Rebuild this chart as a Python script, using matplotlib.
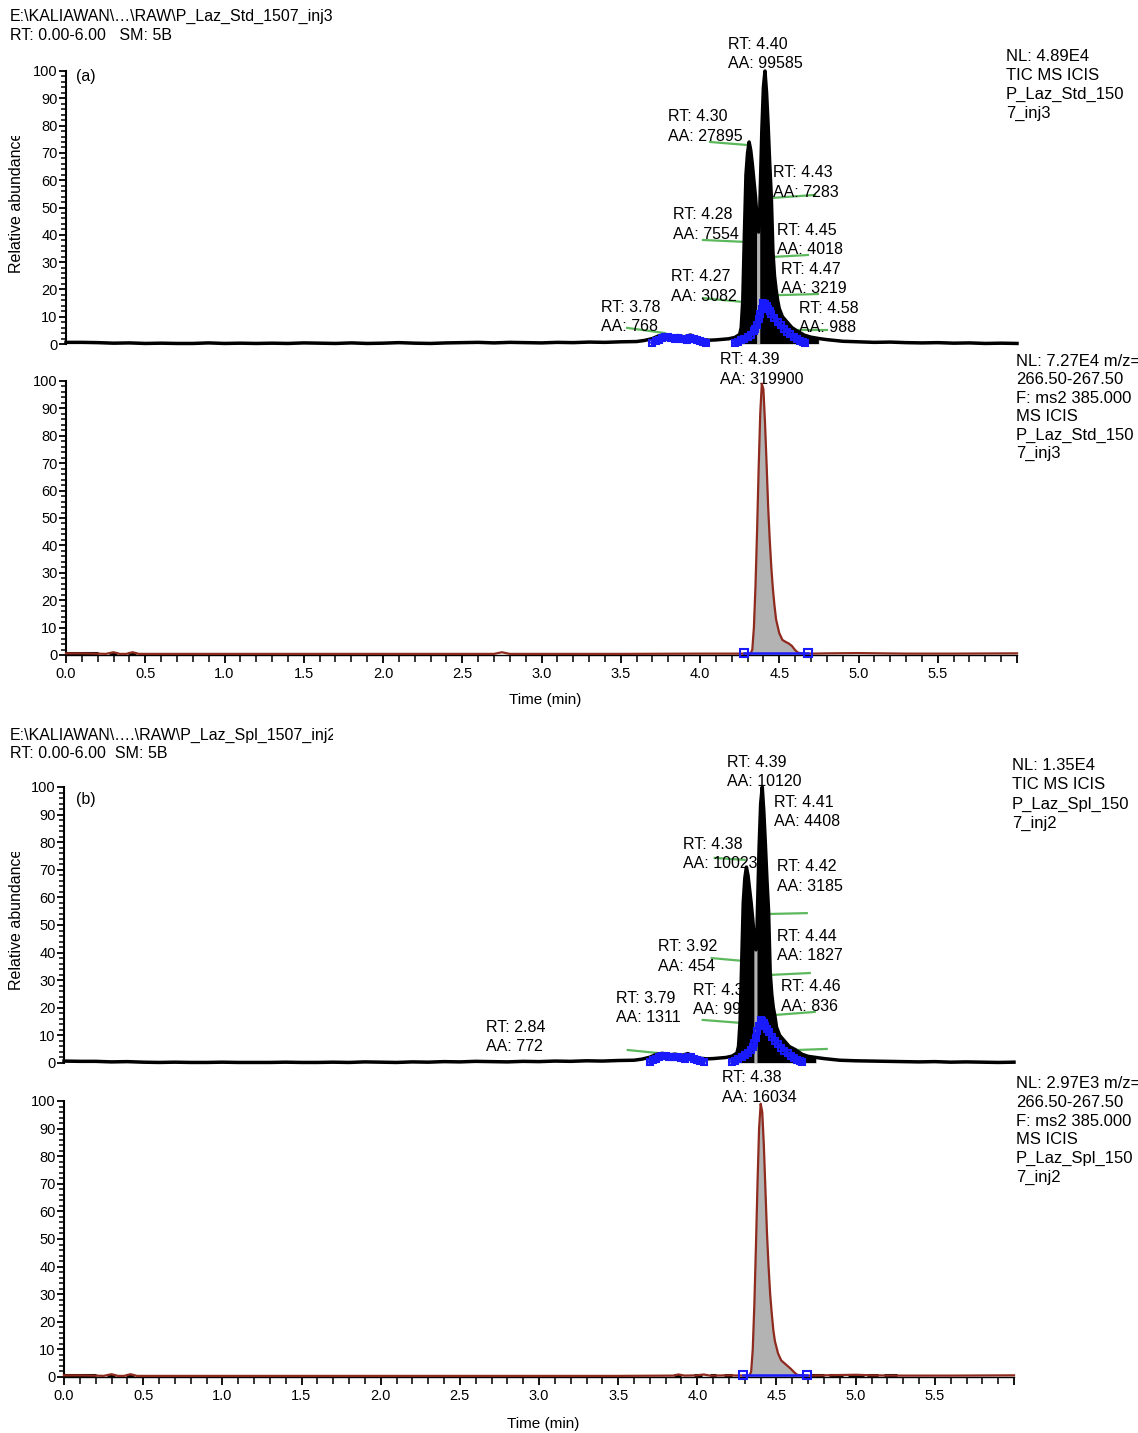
import matplotlib
matplotlib.use("Agg")

import matplotlib.pyplot as plt
import numpy as np
from matplotlib.ticker import MultipleLocator
from matplotlib.transforms import Bbox, TransformedBbox

plt.rcParams["font.family"] = ["Liberation Sans", "DejaVu Sans"]

W, H = 1138, 1433

# ---------------- data ----------------
x_tick_labels = ["0.0", "0.5", "1.0", "1.5", "2.0", "2.5", "3.0",
                 "3.5", "4.0", "4.5", "5.0", "5.5", ""]

tic_time = [0.00, 0.10, 0.20, 0.30, 0.40, 0.50, 0.60, 0.70, 0.80, 0.90,
            1.00, 1.10, 1.20, 1.30, 1.40, 1.50, 1.60, 1.70, 1.80, 1.90,
            2.00, 2.10, 2.20, 2.30, 2.40, 2.50, 2.60, 2.70, 2.80, 2.90,
            3.00, 3.10, 3.20, 3.30, 3.40, 3.50, 3.60,
            3.65, 3.70, 3.74, 3.78, 3.82, 3.86, 3.90, 3.94, 3.98, 4.02,
            4.06, 4.10, 4.14, 4.18, 4.22, 4.25,
            4.26, 4.27, 4.28, 4.29, 4.30, 4.31, 4.32, 4.33, 4.34, 4.35,
            4.36, 4.365, 4.37, 4.375, 4.38, 4.39, 4.40, 4.41, 4.42, 4.43,
            4.44, 4.45, 4.46, 4.47, 4.48, 4.49, 4.50,
            4.52, 4.55, 4.58, 4.62, 4.66, 4.70, 4.75, 4.80,
            4.90, 5.00, 5.10, 5.20, 5.30, 5.40, 5.50, 5.60, 5.70, 5.80,
            5.90, 6.00]

tic_a_val = [0.6, 0.6, 0.5, 0.3, 0.4, 0.2, 0.3, 0.2, 0.2, 0.4,
             0.2, 0.3, 0.2, 0.3, 0.2, 0.4, 0.3, 0.2, 0.4, 0.2,
             0.3, 0.5, 0.3, 0.2, 0.4, 0.5, 0.6, 0.4, 0.6, 0.5,
             0.4, 0.6, 0.5, 0.7, 0.6, 0.8, 0.9,
             1.3, 2.0, 3.0, 3.4, 2.8, 3.1, 2.6, 3.3, 2.2, 1.6,
             1.4, 1.5, 1.7, 1.9, 2.4, 3.5,
             6, 16, 40, 62, 70, 74, 71, 66, 60, 54,
             46, 42, 41, 44, 56, 78, 94, 100, 92, 80,
             66, 54, 34, 25, 20, 16, 13,
             10, 8, 6, 4.5, 3.2, 2.5, 2.0, 1.6,
             1.0, 0.8, 0.6, 0.7, 0.5, 0.4, 0.5, 0.3, 0.4, 0.2,
             0.3, 0.2]

tic_b_val = [0.7, 0.6, 0.6, 0.4, 0.5, 0.3, 0.2, 0.3, 0.2, 0.2,
             0.3, 0.2, 0.2, 0.2, 0.3, 0.2, 0.2, 0.3, 0.2, 0.4,
             0.3, 0.2, 0.4, 0.3, 0.5, 0.4, 0.6, 0.5, 0.4, 0.6,
             0.5, 0.7, 0.6, 0.8, 0.7, 0.9, 1.0,
             1.4, 2.1, 3.1, 3.5, 2.9, 3.2, 2.7, 3.4, 2.3, 1.7,
             1.5, 1.6, 1.8, 2.0, 2.5, 3.6,
             6, 15, 36, 58, 67, 71, 68, 63, 58, 52,
             45, 42, 41, 44, 56, 78, 94, 100, 91, 79,
             66, 55, 33, 25, 20, 17, 13,
             10, 8, 6, 4.8, 3.2, 2.4, 2.0, 1.6,
             1.0, 0.8, 0.7, 0.6, 0.5, 0.4, 0.5, 0.3, 0.4, 0.3,
             0.2, 0.3]

blue_bump_time = [3.70, 3.72, 3.74, 3.76, 3.78, 3.80, 3.82, 3.84, 3.86,
                  3.88, 3.90, 3.92, 3.94, 3.96, 3.98, 4.00, 4.02, 4.04]
blue_a_bump_val = [0.4, 1.0, 1.6, 2.2, 2.5, 2.6, 2.2, 2.0, 2.3,
                   2.0, 1.7, 1.5, 2.1, 2.0, 1.4, 1.0, 0.7, 0.4]
blue_b_bump_val = [0.4, 1.0, 1.5, 2.1, 2.6, 2.7, 2.3, 2.0, 2.2,
                   2.1, 1.8, 1.6, 2.2, 2.0, 1.5, 1.0, 0.7, 0.4]

blue_peak_time = [4.22, 4.24, 4.26, 4.28, 4.30, 4.32, 4.34, 4.35, 4.36, 4.37,
                  4.38, 4.39, 4.40, 4.41, 4.42, 4.43, 4.44, 4.45, 4.47, 4.49,
                  4.51, 4.53, 4.55, 4.57, 4.59, 4.61, 4.63, 4.65, 4.66]
blue_a_peak_val = [0.4, 0.8, 1.4, 2.0, 2.6, 3.4, 4.6, 5.5, 7.0, 9.0,
                   11, 13, 15, 14.8, 14, 13, 12, 11, 9.5, 8.0,
                   6.8, 5.6, 4.5, 3.5, 2.6, 1.8, 1.1, 0.6, 0.4]
blue_b_peak_val = [0.4, 0.8, 1.5, 2.1, 2.8, 3.6, 4.8, 5.8, 7.2, 9.2,
                   11.5, 13.5, 15.5, 15.2, 14.4, 13.3, 12.2, 11.2, 9.6, 8.1,
                   6.8, 5.6, 4.5, 3.5, 2.6, 1.8, 1.1, 0.6, 0.4]

srm_a_time = [0.00, 0.10, 0.20, 0.25, 0.30, 0.34, 0.38, 0.42, 0.46,
              1.00, 1.50, 2.00, 2.50, 2.70, 2.75, 2.80, 3.00, 3.50, 4.00,
              4.30, 4.32,
              4.33, 4.34, 4.35, 4.36, 4.37, 4.38, 4.39, 4.40, 4.41, 4.42,
              4.43, 4.44, 4.45, 4.46, 4.47, 4.48,
              4.50, 4.52, 4.54, 4.56, 4.58, 4.60, 4.62,
              4.66, 4.70, 4.80, 5.00, 5.30, 5.60, 6.00]
srm_a_val = [0.6, 0.6, 0.5, 0.4, 1.0, 0.4, 0.4, 1.0, 0.4,
             0.4, 0.4, 0.4, 0.4, 0.4, 1.0, 0.4, 0.4, 0.4, 0.5,
             0.5, 0.6,
             2, 10, 25, 45, 68, 88, 99, 97, 85, 70,
             54, 42, 32, 24, 18, 13,
             8, 5.5, 4.8, 4.2, 3.3, 1.8, 0.8,
             0.5, 0.5, 0.6, 0.7, 0.5, 0.5, 0.6]

srm_b_time = [0.00, 0.10, 0.20, 0.25, 0.30, 0.34, 0.38, 0.42, 0.46,
              1.00, 1.50, 2.00, 2.50, 3.00, 3.50, 3.85, 3.88, 3.92, 4.00,
              4.04, 4.08, 4.20,
              4.31, 4.33,
              4.34, 4.35, 4.36, 4.37, 4.38, 4.39, 4.40, 4.41, 4.42, 4.43,
              4.44, 4.45, 4.46, 4.47, 4.48, 4.49,
              4.51, 4.53, 4.55, 4.57, 4.59, 4.61, 4.63,
              4.67, 4.71, 4.80, 4.90, 5.00, 5.10, 5.30, 5.60, 6.00]
srm_b_val = [0.6, 0.6, 0.5, 0.4, 1.0, 0.4, 0.4, 1.0, 0.4,
             0.4, 0.4, 0.4, 0.4, 0.4, 0.4, 0.5, 0.9, 0.5, 0.6,
             0.9, 0.5, 0.6,
             0.5, 0.6,
             2, 10, 26, 47, 70, 90, 99, 96, 84, 68,
             52, 40, 30, 23, 17, 13,
             8.5, 6, 5, 4, 3, 1.8, 0.8,
             0.5, 0.5, 0.6, 0.7, 0.8, 0.6, 0.5, 0.5, 0.6]

srm_a_blue_time = [4.28, 4.68]
srm_b_blue_time = [4.29, 4.69]
srm_blue_val = [0.6, 0.6]

black_a_start = [0.00, 0.27, 0.39]
black_a_end = [0.20, 0.32, 0.44]
black_b_start = [0.00, 0.27, 0.39, 3.85, 3.98, 4.08, 4.17, 4.72, 4.83, 4.95, 5.07, 5.18]
black_b_end = [0.20, 0.32, 0.44, 3.90, 4.03, 4.12, 4.22, 4.80, 4.92, 5.05, 5.14, 5.26]
black_level = 0.6

peaks_a_rt = ["4.40", "4.30", "4.43", "4.28", "4.45", "4.47", "4.27", "3.78", "4.58"]
peaks_a_aa = ["99585", "27895", "7283", "7554", "4018", "3219", "3082", "768", "988"]
peaks_b_rt = ["4.39", "4.41", "4.38", "4.42", "3.92", "4.44", "4.46", "3.79", "4.3", "2.84"]
peaks_b_aa = ["10120", "4408", "10023", "3185", "454", "1827", "836", "1311", "992", "772"]

srm_a_label = ("4.39", "319900")
srm_b_label = ("4.38", "16034")

info_a_tic = ["NL: 4.89E4", "TIC MS ICIS", "P_Laz_Std_150", "7_inj3"]
info_a_srm = ["NL: 7.27E4 m/z=", "266.50-267.50", "F: ms2 385.000", "MS ICIS",
              "P_Laz_Std_150", "7_inj3"]
info_b_tic = ["NL: 1.35E4", "TIC MS ICIS", "P_Laz_Spl_150", "7_inj2"]
info_b_srm = ["NL: 2.97E3 m/z=", "266.50-267.50", "F: ms2 385.000", "MS ICIS",
              "P_Laz_Spl_150", "7_inj2"]

header_a = [r"E:\KALIAWAN\…\RAW\P_Laz_Std_1507_inj3", "RT: 0.00-6.00   SM: 5B"]
header_b = [r"E:\KALIAWAN\….\RAW\P_Laz_Spl_1507_inj2", "RT: 0.00-6.00  SM: 5B"]

# ---------------- layout (label placement in data units) ----------------
label_pos_a = [(4.177, 106.6), (3.798, 80.2), (4.461, 59.7), (3.830, 44.3), (4.486, 38.5),
               (4.511, 24.2), (3.817, 21.6), (3.375, 10.3), (4.625, 9.9)]
label_pos_b = [(4.186, 105.8), (4.482, 91.3), (3.908, 76.1), (4.501, 68.1), (3.750, 39.1),
               (4.501, 42.8), (4.527, 24.6), (3.485, 20.3), (3.971, 23.2), (2.664, 9.8)]
green_a = [((4.063, 74.0), (4.297, 72.9)), ((4.454, 53.5), (4.726, 54.6)),
           ((4.019, 38.1), (4.284, 37.4)), ((4.461, 31.9), (4.681, 32.6)),
           ((4.019, 16.8), (4.271, 15.4)), ((4.492, 17.9), (4.744, 18.3)),
           ((3.540, 5.9), (3.779, 4.0)), ((4.618, 5.1), (4.801, 5.1))]
green_b = [((4.110, 74.3), (4.299, 73.6)), ((4.457, 54.0), (4.691, 54.3)),
           ((4.091, 38.0), (4.287, 37.0)), ((4.457, 31.9), (4.710, 32.6)),
           ((4.034, 15.6), (4.280, 14.5)), ((4.489, 17.4), (4.741, 18.5)),
           ((3.561, 4.7), (3.807, 3.3)), ((4.628, 4.7), (4.817, 5.1))]

BLUE = "#1a1aff"
GREEN = "#5cb85c"
RED = "#8e2a1e"
GREY = "#b3b3b3"
FS = 11.5


def px_axes(fig, left, right, top, bottom):
    return fig.add_axes([left / W, 1 - bottom / H, (right - left) / W, (bottom - top) / H])


def style_axes(ax, show_x):
    ax.set_xlim(0, 6)
    ax.set_ylim(0, 100)
    ax.patch.set_alpha(0)
    for side in ("top", "right"):
        ax.spines[side].set_visible(False)
    ax.spines["left"].set_linewidth(1.5)
    ax.set_yticks(np.arange(0, 101, 10))
    ax.yaxis.set_minor_locator(MultipleLocator(2))
    ax.tick_params(axis="y", which="major", direction="out", length=5, width=1.3,
                   labelsize=10.5, pad=1)
    ax.tick_params(axis="y", which="minor", direction="out", length=3.5, width=1.1)
    if show_x:
        ax.spines["bottom"].set_linewidth(1.0)
        ax.set_xticks(np.arange(0, 6.01, 0.5))
        ax.set_xticklabels(x_tick_labels)
        ax.xaxis.set_minor_locator(MultipleLocator(0.1))
        ax.tick_params(axis="x", which="major", direction="out", length=6, width=1.3,
                       labelsize=10.5, pad=3)
        ax.tick_params(axis="x", which="minor", direction="out", length=5, width=1.1)
    else:
        ax.spines["bottom"].set_visible(False)
        ax.tick_params(axis="x", which="both", bottom=False, labelbottom=False)


def two_line_label(ax, x, y, first, second):
    # line spacing ~14 pt, text baseline a little below each line's centre
    for text, dy in ((first, 2.95), (second, -11.15)):
        ax.annotate(text, (x, y), xytext=(0, dy), textcoords="offset points",
                    ha="left", va="baseline", fontsize=FS, zorder=1.5,
                    annotation_clip=False)


def draw_tic(ax, t, y, blue_sets, rts, aas, positions, greens):
    t = np.asarray(t)
    y = np.asarray(y)
    peak = (t >= 4.22) & (t <= 4.75)
    ax.fill_between(t, y, where=peak, color=GREY, lw=0, zorder=2)
    solid = peak & ((t <= 4.362) | (t >= 4.378))
    ax.fill_between(t, y, where=solid, color="black", lw=0, zorder=2.1)
    ax.plot(t, y, color="black", lw=2.5, zorder=3, clip_on=False)
    for bt, by in blue_sets:
        ax.plot(bt, by, color=BLUE, lw=3, marker="s", ms=5, mfc="none", mec=BLUE,
                mew=1.5, zorder=4, clip_on=False)
    for (x0, y0), (x1, y1) in greens:
        ax.plot([x0, x1], [y0, y1], color=GREEN, lw=1.6, zorder=1.2, clip_on=False)
    for rt, aa, (x, yy) in zip(rts, aas, positions):
        two_line_label(ax, x, yy, f"RT: {rt}", f"AA: {aa}")


def draw_srm(ax, t, y, blue_t, black_start, black_end, label, label_xy):
    t = np.asarray(t)
    y = np.asarray(y)
    peak = (t >= 4.30) & (t <= 4.66)
    ax.fill_between(t, y, where=peak, color=GREY, lw=0, zorder=2)
    ax.hlines([black_level] * len(black_start), black_start, black_end,
              color="black", lw=2.2, zorder=3)
    ax.plot(t, y, color=RED, lw=1.6, zorder=3.5, clip_on=False)
    ax.plot(blue_t, srm_blue_val, color=BLUE, lw=1.8, marker="s", ms=6, mfc="none",
            mec=BLUE, mew=1.5, zorder=4, clip_on=False)
    two_line_label(ax, label_xy[0], label_xy[1], f"RT: {label[0]}", f"AA: {label[1]}")


def info_block(fig, x_px, first_px, step_px, lines):
    for i, line in enumerate(lines):
        fig.text(x_px / W, 1 - (first_px + i * step_px + 6) / H, line,
                 ha="left", va="baseline", fontsize=12)


def clipped_text(fig, x_px, y_px, text, clip_extents, **kw):
    t = fig.text(x_px / W, 1 - y_px / H, text, **kw)
    x0, y0, x1, y1 = clip_extents
    t.set_clip_box(TransformedBbox(Bbox.from_extents(x0 / W, 1 - y1 / H, x1 / W, 1 - y0 / H),
                                   fig.transFigure))
    t.set_clip_on(True)
    return t


fig = plt.figure(figsize=(W / 100, H / 100), dpi=100)

# ---- panel (a) ----
ax_a1 = px_axes(fig, 66, 1017, 71, 344)
ax_a2 = px_axes(fig, 66, 1017, 381, 655)
style_axes(ax_a1, False)
style_axes(ax_a2, True)
draw_tic(ax_a1, tic_time, tic_a_val,
         [(blue_bump_time, blue_a_bump_val), (blue_peak_time, blue_a_peak_val)],
         peaks_a_rt, peaks_a_aa, label_pos_a, green_a)
draw_srm(ax_a2, srm_a_time, srm_a_val, srm_a_blue_time, black_a_start, black_a_end,
         srm_a_label, (4.126, 104.7))

# ---- panel (b) ----
ax_b1 = px_axes(fig, 64, 1014, 787, 1063)
ax_b2 = px_axes(fig, 64, 1014, 1101, 1377)
style_axes(ax_b1, False)
style_axes(ax_b2, True)
draw_tic(ax_b1, tic_time, tic_b_val,
         [(blue_bump_time, blue_b_bump_val), (blue_peak_time, blue_b_peak_val)],
         peaks_b_rt, peaks_b_aa, label_pos_b, green_b)
draw_srm(ax_b2, srm_b_time, srm_b_val, srm_b_blue_time, black_b_start, black_b_end,
         srm_b_label, (4.154, 105.4))

# ---- surrounding text ----
clipped_text(fig, 10, 20.7, header_a[0], (0, 0, 335, H), ha="left", va="baseline", fontsize=FS)
fig.text(10 / W, 1 - 39.7 / H, header_a[1], ha="left", va="baseline", fontsize=FS)
clipped_text(fig, 10, 739.7, header_b[0], (0, 0, 333, H), ha="left", va="baseline", fontsize=FS)
fig.text(10 / W, 1 - 757.7 / H, header_b[1], ha="left", va="baseline", fontsize=FS)

fig.text(76 / W, 1 - 81.5 / H, "(a)", ha="left", va="baseline", fontsize=FS)
fig.text(76 / W, 1 - 804.5 / H, "(b)", ha="left", va="baseline", fontsize=FS)

clipped_text(fig, 17, 273, "Relative abundance", (0, 136, 60, H), rotation=90,
             ha="center", va="bottom", fontsize=FS)
clipped_text(fig, 17, 990, "Relative abundance", (0, 852, 60, H), rotation=90,
             ha="center", va="bottom", fontsize=FS)

fig.text(545 / W, 1 - 700 / H, "Time (min)", ha="center", va="center", fontsize=11)
fig.text(543 / W, 1 - 1424 / H, "Time (min)", ha="center", va="center", fontsize=11)

info_block(fig, 1006, 55, 19, info_a_tic)
info_block(fig, 1016, 360, 18.4, info_a_srm)
info_block(fig, 1012, 764, 19.3, info_b_tic)
info_block(fig, 1016, 1082, 18.8, info_b_srm)

fig.savefig("out.png", dpi=100)
plt.close(fig)
